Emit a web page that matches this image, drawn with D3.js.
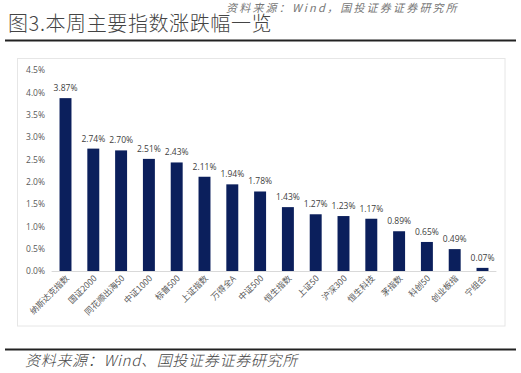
<!DOCTYPE html>
<html><head><meta charset="utf-8">
<script src="https://cdn.jsdelivr.net/npm/d3@7"></script>
<style>
html,body{margin:0;padding:0;background:#fff;}
svg{display:block;}
</style></head>
<body>
<script>
const categories = ["纳斯达克指数","国证2000","同花顺出海50","中证1000","标普500","上证指数","万得全A","中证500","恒生指数","上证50","沪深300","恒生科技","茅指数","科创50","创业板指","宁组合"];
const values = [3.87,2.74,2.70,2.51,2.43,2.11,1.94,1.78,1.43,1.27,1.23,1.17,0.89,0.65,0.49,0.07];
const yTicks = [0,0.5,1.0,1.5,2.0,2.5,3.0,3.5,4.0,4.5];

const W=521,H=373;
const svg=d3.select("body").append("svg").attr("width",W).attr("height",H);
const cjk="'Noto Sans CJK SC','Noto Sans',sans-serif";
const lat="'Open Sans','Noto Sans','Noto Sans CJK SC',sans-serif";

// top header text (partly above the visible area in the source)
svg.append("text").attr("x",226).attr("y",12).attr("font-family",cjk).attr("font-size",11)
  .attr("font-style","italic").attr("fill","#777").attr("letter-spacing",2.2).text("资料来源：Wind，国投证券证券研究所");

// title
svg.append("text").attr("x",8).attr("y",31).attr("font-family",cjk).attr("font-size",20)
  .attr("font-weight",300).attr("fill","#444").attr("letter-spacing",0.6).text("图3.本周主要指数涨跌幅一览");
svg.append("line").attr("x1",5).attr("x2",516).attr("y1",40.5).attr("y2",40.5).attr("stroke","#222").attr("stroke-width",2);

// chart box
svg.append("rect").attr("x",17.5).attr("y",58.5).attr("width",487.5).attr("height",267.5)
  .attr("fill","none").attr("stroke","#e6e6e6").attr("stroke-width",1);

const x=d3.scaleBand().domain(categories).range([51.6,496.4]).paddingInner(0.57).paddingOuter(0.285);
const y=d3.scaleLinear().domain([0,4.5]).range([271,70]);

// y axis
const ya=svg.append("g").attr("transform","translate(50,0)")
  .call(d3.axisLeft(y).tickValues(yTicks).tickFormat(d=>d.toFixed(1)+"%").tickSize(0).tickPadding(5));
ya.select(".domain").remove();
ya.selectAll("text").attr("font-family",lat).attr("font-size",8.5).attr("fill","#595959");

// bars
svg.append("g").selectAll("rect").data(values).join("rect")
  .attr("x",(d,i)=>x(categories[i])).attr("width",x.bandwidth())
  .attr("y",d=>y(d)).attr("height",d=>y(0)-y(d)).attr("fill","#0b1f5c");

// value labels
svg.append("g").selectAll("text").data(values).join("text")
  .attr("x",(d,i)=>x(categories[i])+x.bandwidth()/2).attr("y",d=>y(d)-7)
  .attr("text-anchor","middle").attr("font-family",lat).attr("font-size",8.5).attr("fill","#404040")
  .text(d=>d.toFixed(2)+"%");

// x axis
const xa=svg.append("g").attr("transform","translate(0,271)")
  .call(d3.axisBottom(x).tickSize(0).tickPadding(0));
xa.select(".domain").attr("stroke","#d9d9d9").attr("d","M51.6,0.5H496.4");
xa.selectAll("text").attr("font-family",cjk).attr("font-size",8.5).attr("fill","#595959")
  .attr("text-anchor","end").attr("dy",0)
  .attr("transform","translate(4,8) rotate(-45)");

// footer
svg.append("line").attr("x1",5).attr("x2",516).attr("y1",349.5).attr("y2",349.5).attr("stroke","#222").attr("stroke-width",2);
svg.append("text").attr("x",25).attr("y",366).attr("font-family",cjk).attr("font-size",15)
  .attr("font-style","italic").attr("font-weight",300).attr("fill","#444").attr("letter-spacing",0.7).text("资料来源：Wind、国投证券证券研究所");
</script>
</body></html>
